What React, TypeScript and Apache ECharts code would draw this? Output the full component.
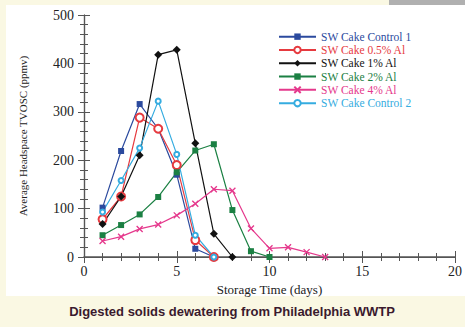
import React, { useEffect, useRef } from "react";
import * as echarts from "echarts";

const seriesNames = [
  "SW Cake Control 1",
  "SW Cake 0.5% Al",
  "SW Cake 1% Al",
  "SW Cake 2% Al",
  "SW Cake 4% Al",
  "SW Cake Control 2",
];
const control1 = [102, 219, 316, 265, 170, 17, 0];
const al05 = [78, 125, 288, 265, 190, 35, 0];
const al1 = [68, 125, 210, 418, 428, 235, 48, 0];
const al2 = [45, 66, 88, 124, 175, 220, 233, 97, 12, 0];
const al4 = [33, 42, 58, 67, 86, 110, 140, 137, 59, 18, 20, 10, 0];
const control2 = [93, 158, 225, 322, 212, 45, 0];
const xTicks = [0, 5, 10, 15, 20];
const yTicks = [0, 100, 200, 300, 400, 500];

const colors = ["#2b4a9e", "#e63a3f", "#111111", "#1b8043", "#e5388c", "#35ace0"];
const symbols = [
  "rect",
  "emptyCircle",
  "diamond",
  "rect",
  "path://M0,0L10,10M10,0L0,10",
  "emptyCircle",
];
const symbolSizes = [6, 8, 8, 6, 6, 5];
const allData = [control1, al05, al1, al2, al4, control2];

export default function App() {
  const ref = useRef<HTMLDivElement>(null);
  useEffect(() => {
    if (!ref.current) return;
    const chart = echarts.init(ref.current, null, { renderer: "svg" });
    const serif = "Liberation Serif";
    const axisColor = "#555";
    const series = allData.map((vals, i) => ({
      name: seriesNames[i],
      type: "line",
      data: vals.map((v, d) => [d + 1, v]),
      symbol: symbols[i],
      symbolSize: symbolSizes[i],
      showAllSymbol: true,
      lineStyle: { color: colors[i], width: 1.2 },
      itemStyle: {
        color: i === 4 ? "none" : colors[i],
        borderColor: colors[i],
        borderWidth: i === 1 || i === 5 || i === 4 ? 1.3 : 0,
      },
      z: 3,
    }));
    chart.setOption({
      animation: false,
      backgroundColor: "#faf8e3",
      graphic: [
        { type: "rect", shape: { x: 6, y: 5, width: 459, height: 291 }, style: { fill: "#ffffff" }, z: -10 },
        { type: "rect", shape: { x: 389, y: 0, width: 76, height: 5 }, style: { fill: "#b0b0b0" }, z: -10 },
        {
          type: "text",
          x: 232,
          y: 311,
          style: {
            text: "Digested solids dewatering from Philadelphia WWTP",
            font: "bold 13px 'Liberation Sans'",
            fill: "#3a1a2e",
            align: "center",
            verticalAlign: "middle",
          },
        },
      ],
      grid: { left: 84, right: 6, top: 15, bottom: 70 },
      legend: {
        orient: "vertical",
        left: 278,
        top: 30,
        padding: 0,
        itemWidth: 37,
        itemHeight: 8,
        itemGap: 0,
        textStyle: { fontFamily: serif, fontSize: 11.5, lineHeight: 13.3 },
        data: seriesNames.map((n, i) => ({ name: n, textStyle: { color: colors[i] } })),
      },
      xAxis: [
        {
          type: "value",
          min: 0,
          max: 20,
          interval: 5,
          name: "Storage Time (days)",
          nameLocation: "middle",
          nameGap: 22,
          nameTextStyle: { fontFamily: serif, fontSize: 13, color: "#222" },
          axisLine: { onZero: false, lineStyle: { color: axisColor, width: 1.5 } },
          axisTick: { inside: true, length: 6, lineStyle: { color: axisColor } },
          minorTick: { show: true, splitNumber: 5, length: 4, lineStyle: { color: axisColor } },
          axisLabel: { fontFamily: serif, fontSize: 14, color: "#222", margin: 7, customValues: xTicks },
          splitLine: { show: false },
        },
        {
          type: "value",
          position: "top",
          min: 0,
          max: 20,
          interval: 5,
          axisLine: { lineStyle: { color: axisColor, width: 1.2 } },
          axisTick: { inside: true, length: 6, lineStyle: { color: axisColor } },
          minorTick: { show: true, splitNumber: 5, length: 4, lineStyle: { color: axisColor } },
          axisLabel: { show: false },
          splitLine: { show: false },
        },
      ],
      yAxis: [
        {
          type: "value",
          min: 0,
          max: 500,
          interval: 100,
          name: "Average Headspace TVOSC (ppmv)",
          nameLocation: "middle",
          nameGap: 56,
          nameTextStyle: { fontFamily: serif, fontSize: 11, color: "#222" },
          axisLine: { show: true, lineStyle: { color: axisColor, width: 1.2 } },
          axisTick: { inside: false, length: 6, lineStyle: { color: axisColor } },
          minorTick: { show: true, splitNumber: 5, length: 4, lineStyle: { color: axisColor } },
          axisLabel: { fontFamily: serif, fontSize: 14, color: "#222", margin: 10, customValues: yTicks },
          splitLine: { show: false },
        },
        {
          type: "value",
          position: "right",
          min: 0,
          max: 500,
          interval: 100,
          axisLine: { show: true, lineStyle: { color: axisColor, width: 1.2 } },
          axisTick: { inside: false, length: 6, lineStyle: { color: axisColor } },
          minorTick: { show: true, splitNumber: 5, length: 4, lineStyle: { color: axisColor } },
          axisLabel: { show: false },
          splitLine: { show: false },
        },
      ],
      series,
    });
    return () => chart.dispose();
  }, []);
  return <div ref={ref} style={{ width: 465, height: 327, position: "absolute", left: 0, top: 0 }} />;
}
